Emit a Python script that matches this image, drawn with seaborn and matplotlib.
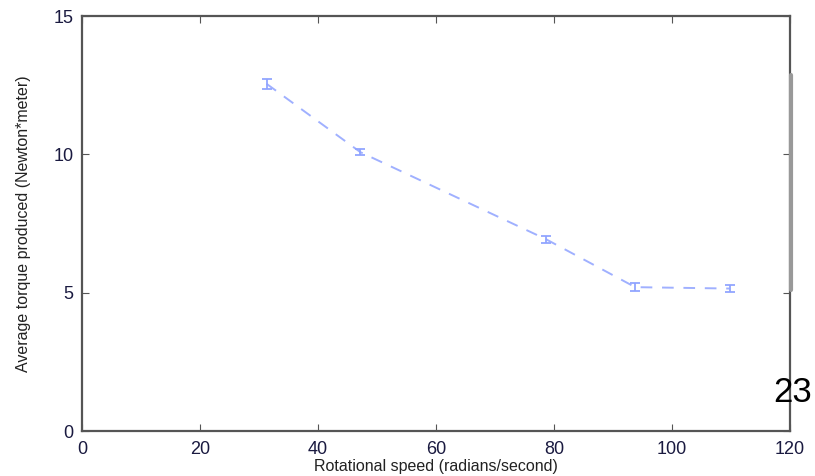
import matplotlib
matplotlib.use("Agg")
import matplotlib.pyplot as plt
import seaborn as sns
import pandas as pd

speed = [31.3, 47.2, 78.7, 93.8, 109.8]
torque = [12.55, 10.08, 6.93, 5.2, 5.15]
err = [0.18, 0.12, 0.12, 0.14, 0.14]

x_ticks = [0, 20, 40, 60, 80, 100, 120]
y_ticks = [0, 5, 10, 15]

sns.set_theme(style="white")
plt.rcParams['font.family'] = ['Liberation Sans', 'DejaVu Sans']

df = pd.DataFrame({"speed": speed, "torque": torque})

fig = plt.figure(figsize=(8.15, 4.76), dpi=100)
ax = fig.add_axes([0.1006, 0.0945, 0.8684, 0.8718])

line_color = "#8fa3ff"
sns.lineplot(data=df, x="speed", y="torque", ax=ax, color=line_color,
             linestyle=(0, (6, 5)), linewidth=1.4, alpha=0.85)
ax.errorbar(speed, torque, yerr=err, fmt="none", ecolor=line_color,
            elinewidth=1.4, capsize=3.5, capthick=1.4, alpha=0.9)

ax.set_xlim(0, 120)
ax.set_ylim(0, 15)
ax.set_xticks(x_ticks)
ax.set_yticks(y_ticks)
ax.set_xticklabels([str(t) for t in x_ticks], fontsize=13, color="#1a1a40")
ax.set_yticklabels([str(t) for t in y_ticks], fontsize=13, color="#1a1a40")
ax.tick_params(direction="in", length=5, width=0.8, color="#555555",
               top=True, right=True, bottom=True, left=True)
ax.tick_params(axis="x", pad=7)
ax.tick_params(axis="y", pad=6)
ax.set_xlabel("Rotational speed (radians/second)", fontsize=11.5,
              color="#222222", labelpad=1)
ax.set_ylabel("Average torque produced (Newton*meter)", fontsize=11.5,
              color="#222222", labelpad=16)

for s in ax.spines.values():
    s.set_color("#555555")
    s.set_linewidth(1.6)
    s.set_visible(True)

# thicker gray segment on the right border (scan artifact)
fig.add_artist(plt.Line2D([790.5/815, 790.5/815], [1-75/476, 1-290/476],
                          transform=fig.transFigure, color="#999999", lw=3))

fig.text(812/815, 1-393/476, "23", fontsize=25, color="black",
         ha="right", va="center", family=['Liberation Sans Narrow', 'Liberation Sans'])

fig.savefig("out.png", dpi=100)
